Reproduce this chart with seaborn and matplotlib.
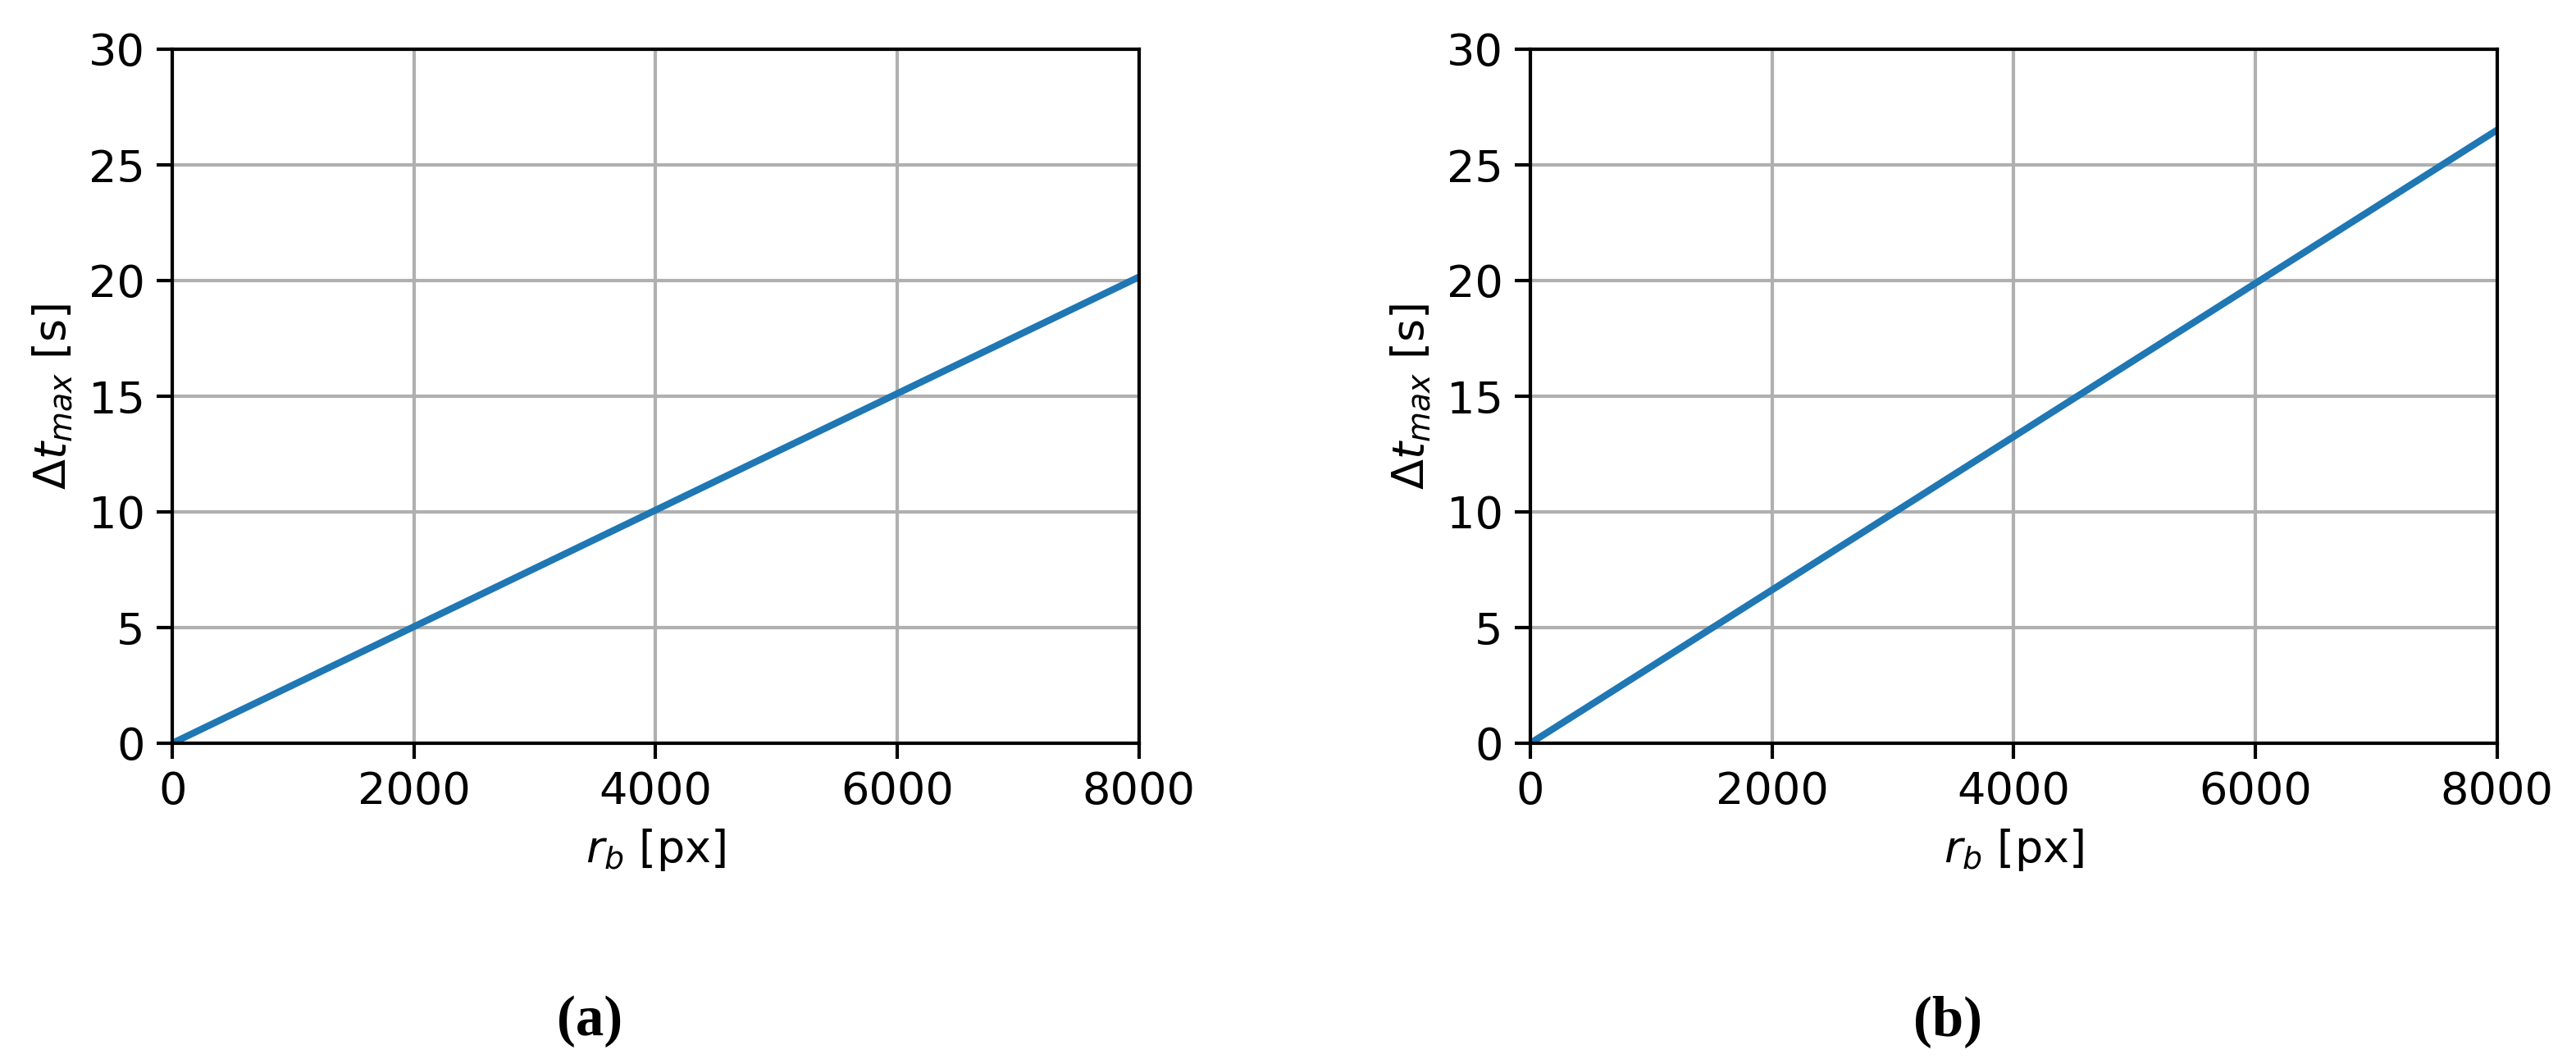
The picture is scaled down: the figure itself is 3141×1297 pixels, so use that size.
import matplotlib
matplotlib.use("Agg")
import matplotlib.pyplot as plt
import seaborn as sns
import pandas as pd

# Data
r_b = [0, 8000]
dt_a = [0.0, 20.15]
dt_b = [0.0, 26.5]
x_ticks = [0, 2000, 4000, 6000, 8000]
y_ticks = [0, 5, 10, 15, 20, 25, 30]
captions = ["(a)", "(b)"]

sns.set_style("ticks")
plt.rcParams['font.family'] = ['DejaVu Sans']
plt.rcParams['mathtext.fontset'] = 'dejavusans'
plt.rcParams['text.color'] = 'black'
plt.rcParams['axes.labelcolor'] = 'black'
plt.rcParams['xtick.color'] = 'black'
plt.rcParams['ytick.color'] = 'black'

fig = plt.figure(figsize=(3141/300, 1297/300), dpi=300)
positions = [[0.0669, 0.3015, 0.3752, 0.6523], [0.5941, 0.3015, 0.3752, 0.6523]]
caption_x = [0.229, 0.756]

for pos, dt, cap, cx in zip(positions, [dt_a, dt_b], captions, caption_x):
    ax = fig.add_axes(pos)
    df = pd.DataFrame({"r_b": r_b, "dt": dt})
    sns.lineplot(data=df, x="r_b", y="dt", ax=ax, color="#1f77b4", linewidth=2.0)
    ax.set_xlim(0, 8000)
    ax.set_ylim(0, 30)
    ax.set_xticks(x_ticks)
    ax.set_yticks(y_ticks)
    ax.grid(True, color="#b0b0b0", linewidth=1.0)
    ax.set_axisbelow(True)
    for s in ax.spines.values():
        s.set_visible(True)
        s.set_linewidth(1.0)
        s.set_color("black")
    ax.tick_params(axis="both", labelsize=13, width=1.0, length=4.5, colors="black")
    ax.set_xlabel(r"$r_b$ [px]", fontsize=13)
    ax.set_ylabel(r"$\Delta t_{max}$ [s]", fontsize=13)
    fig.text(cx, 0.040, cap, ha="center", va="center", fontsize=16.5,
             family="Liberation Serif", fontweight="bold", color="black")

fig.savefig("out.png", dpi=300, facecolor="white")
